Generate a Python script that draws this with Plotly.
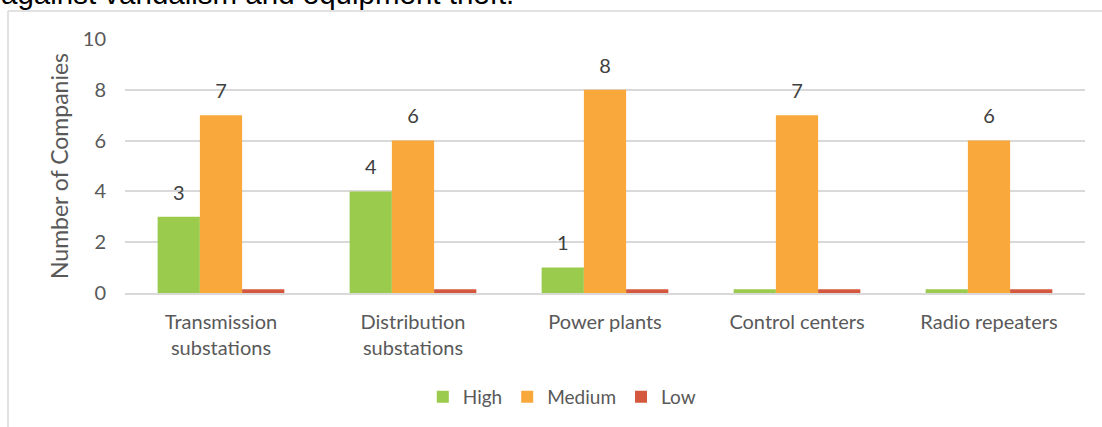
import plotly.graph_objects as go

# ---------------------------------------------------------------
# DATA
# ---------------------------------------------------------------
categories = ["Transmission<br>substations", "Distribution<br>substations",
              "Power plants", "Control centers", "Radio repeaters"]
high = [3, 4, 1, 0, 0]
medium = [7, 6, 8, 7, 6]
low = [0, 0, 0, 0, 0]
y_ticks = [0, 2, 4, 6, 8, 10]

GREEN = "#9BCB4C"
ORANGE = "#F9A83B"
RED = "#D4583E"
GRID = "#D9D9D9"
TEXT = "#595959"
FONT = "Lato"

# Excel draws a thin stub for zero-value bars
STUB = 0.15
BARGAP = 0.34

W, H = 1102, 427
M_L, M_R, M_T, M_B = 125, 17, 39, 134
PW, PH = W - M_L - M_R, H - M_T - M_B


def px_x(px):
    return (px - M_L) / PW


def px_y(py):
    return (H - M_B - py) / PH


series = [("High", high, GREEN), ("Medium", medium, ORANGE), ("Low", low, RED)]

fig = go.Figure()
for i, (name, vals, color) in enumerate(series):
    fig.add_trace(go.Bar(
        x=categories,
        y=[v if v > 0 else STUB for v in vals],
        customdata=vals,
        name=name,
        offsetgroup=str(i),
        marker=dict(color=color, line=dict(width=0)),
        hovertemplate="%{x}: %{customdata}<extra>" + name + "</extra>",
    ))

# data labels, grouped like the bars; an invisible marker pushes text up
for i, (name, vals, color) in enumerate(series):
    fig.add_trace(go.Scatter(
        x=categories,
        y=vals,
        mode="markers+text",
        offsetgroup=str(i),
        text=[str(v) if v > 0 else "" for v in vals],
        textposition="top center",
        textfont=dict(family=FONT, size=20, color="#404040"),
        marker=dict(size=18, opacity=0),
        cliponaxis=False,
        showlegend=False,
        hoverinfo="skip",
    ))

# thin frame of the chart box (left and top edges)
fig.add_shape(type="line", xref="paper", yref="paper",
              x0=px_x(8), x1=px_x(8), y0=px_y(11), y1=px_y(H),
              line=dict(color=GRID, width=1.5))
fig.add_shape(type="line", xref="paper", yref="paper",
              x0=px_x(8), x1=px_x(W), y0=px_y(11), y1=px_y(11),
              line=dict(color=GRID, width=1.5))

# clipped sentence from the surrounding document
fig.add_annotation(
    xref="paper", yref="paper", x=px_x(-1), y=px_y(-7),
    xanchor="left", yanchor="middle",
    text="against vandalism and equipment theft.",
    font=dict(family="Liberation Sans, Arial", size=29.5, color="#000000"),
    showarrow=False,
)

fig.update_layout(
    width=W, height=H,
    margin=dict(l=M_L, r=M_R, t=M_T, b=M_B, autoexpand=False),
    paper_bgcolor="white",
    plot_bgcolor="white",
    font=dict(family=FONT, size=20, color=TEXT),
    barmode="group",
    bargap=BARGAP,
    bargroupgap=0,
    scattermode="group",
    scattergap=BARGAP,
    showlegend=True,
    legend=dict(orientation="h", x=0.455, xanchor="center", y=px_y(397), yanchor="middle",
                font=dict(family=FONT, size=19, color=TEXT), itemwidth=30,
                traceorder="normal"),
    xaxis=dict(showgrid=False, showline=True, linecolor=GRID, linewidth=1.5,
               ticks="", ticklabelstandoff=10,
               tickfont=dict(family=FONT, size=20, color=TEXT)),
    yaxis=dict(range=[0, 10], tickvals=y_ticks, showgrid=True, gridcolor=GRID, gridwidth=1.5,
               zeroline=False, showline=False, ticks="", ticklabelstandoff=18,
               tickfont=dict(family=FONT, size=20, color=TEXT),
               title=dict(text="Number of Companies", standoff=7,
                          font=dict(family=FONT, size=23, color=TEXT))),
)

# drop the browser's default page margin so the figure sits at the window corner
fig.write_html("out.html", config={"displayModeBar": False},
               post_script="document.body.style.margin = '0';")
